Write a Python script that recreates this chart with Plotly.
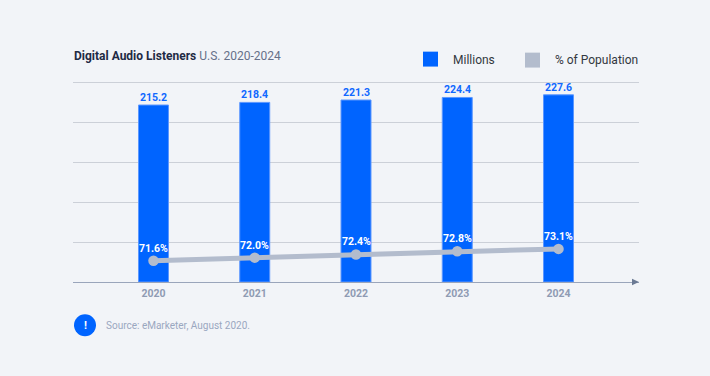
import plotly.graph_objects as go

years = [2020, 2021, 2022, 2023, 2024]
millions = [215.2, 218.4, 221.3, 224.4, 227.6]
population_pct = [71.6, 72.0, 72.4, 72.8, 73.1]

BG = "#f2f4f8"
BLUE = "#0064ff"
GREY = "#b3bccd"
FONT = "Roboto"
W, H = 710, 376
L, R, T, B = 73, 639, 80.5, 282.5
Y_MAX = 244.42


def px(x):
    return (x - L) / (R - L)


def py(y):
    return (B - y) / (B - T)


fig = go.Figure()
fig.add_trace(go.Bar(
    x=years, y=millions, width=0.296, name="Millions",
    marker=dict(color=BLUE, line=dict(color="#5c97ff", width=1)),
    cliponaxis=False, showlegend=False,
))
fig.add_trace(go.Scatter(
    x=years, y=population_pct, yaxis="y2", name="% of Population",
    mode="lines+markers",
    line=dict(color=GREY, width=5),
    marker=dict(color=GREY, size=10.5),
    cliponaxis=False, showlegend=False,
))

shapes = [
    dict(type="rect", xref="paper", yref="paper", x0=px(423), x1=px(438), y0=py(66), y1=py(51),
         fillcolor=BLUE, line_width=0),
    dict(type="rect", xref="paper", yref="paper", x0=px(525), x1=px(540), y0=py(67), y1=py(52),
         fillcolor=GREY, line_width=0),
    dict(type="circle", xref="paper", yref="paper", x0=px(74), x1=px(96), y0=py(337), y1=py(315),
         fillcolor=BLUE, line_width=0),
    dict(type="path", xref="paper", yref="paper",
         path=f"M {px(632)} {py(279.3)} L {px(639)} {py(282.5)} L {px(632)} {py(285.7)} Z",
         fillcolor="#6b7a94", line_width=0),
]


def note(x, y, text, size, color, anchor="left", bold=False):
    return dict(xref="paper", yref="paper", x=px(x), y=py(y), text=text, showarrow=False,
                xanchor=anchor, yanchor="middle", borderpad=0, borderwidth=0,
                font=dict(family=FONT, size=size, color=color, weight="bold" if bold else "normal"))


annotations = [
    note(73.5, 55, "<b>Digital Audio Listeners</b> <span style='color:#667089'>U.S. 2020-2024</span>", 12, "#1f2a44"),
    note(453, 59, "Millions", 12, "#33383f"),
    note(555, 59.5, "% of Population", 12, "#33383f"),
    note(85, 326, "!", 11, "#ffffff", anchor="center", bold=True),
    note(106, 326, "Source: eMarketer, August 2020.", 10, "#9aa7c0"),
]
for yr, v in zip(years, millions):
    annotations.append(dict(x=yr, y=v, xref="x", yref="y", text=f"{v:.1f}", showarrow=False,
                            yanchor="bottom", yshift=0, borderpad=0,
                            font=dict(family=FONT, size=10.5, color="#1068ff", weight="bold")))
for yr, v in zip(years, population_pct):
    annotations.append(dict(x=yr, y=v, xref="x", yref="y2", text=f"{v:.1f}%", showarrow=False,
                            yanchor="bottom", yshift=5, borderpad=0,
                            font=dict(family=FONT, size=10.5, color="#ffffff", weight="bold")))

fig.update_layout(
    width=W, height=H, autosize=False,
    paper_bgcolor=BG, plot_bgcolor=BG,
    margin=dict(l=L, r=W - R, t=T, b=H - B, pad=0),
    font=dict(family=FONT),
    shapes=shapes, annotations=annotations, showlegend=False,
    xaxis=dict(range=[2019.205, 2024.795], tickvals=years, ticktext=[str(y) for y in years],
               showgrid=False, zeroline=False, showline=True, linecolor="#9aa5bb", linewidth=1,
               ticks="", ticklabelstandoff=1,
               tickfont=dict(family=FONT, size=10.5, color="#8f9bb3", weight="bold")),
    yaxis=dict(range=[0, Y_MAX], tickvals=[48.4, 96.8, 145.2, 193.6, 242], showticklabels=False,
               showgrid=True, gridcolor="#ccd0d8", gridwidth=1, zeroline=False, ticks=""),
    yaxis2=dict(overlaying="y", side="right", range=[68.94, 94.19], visible=False, showgrid=False),
)

fig.write_html("out.html", config=dict(displayModeBar=False), post_script="document.body.style.margin='0';")
